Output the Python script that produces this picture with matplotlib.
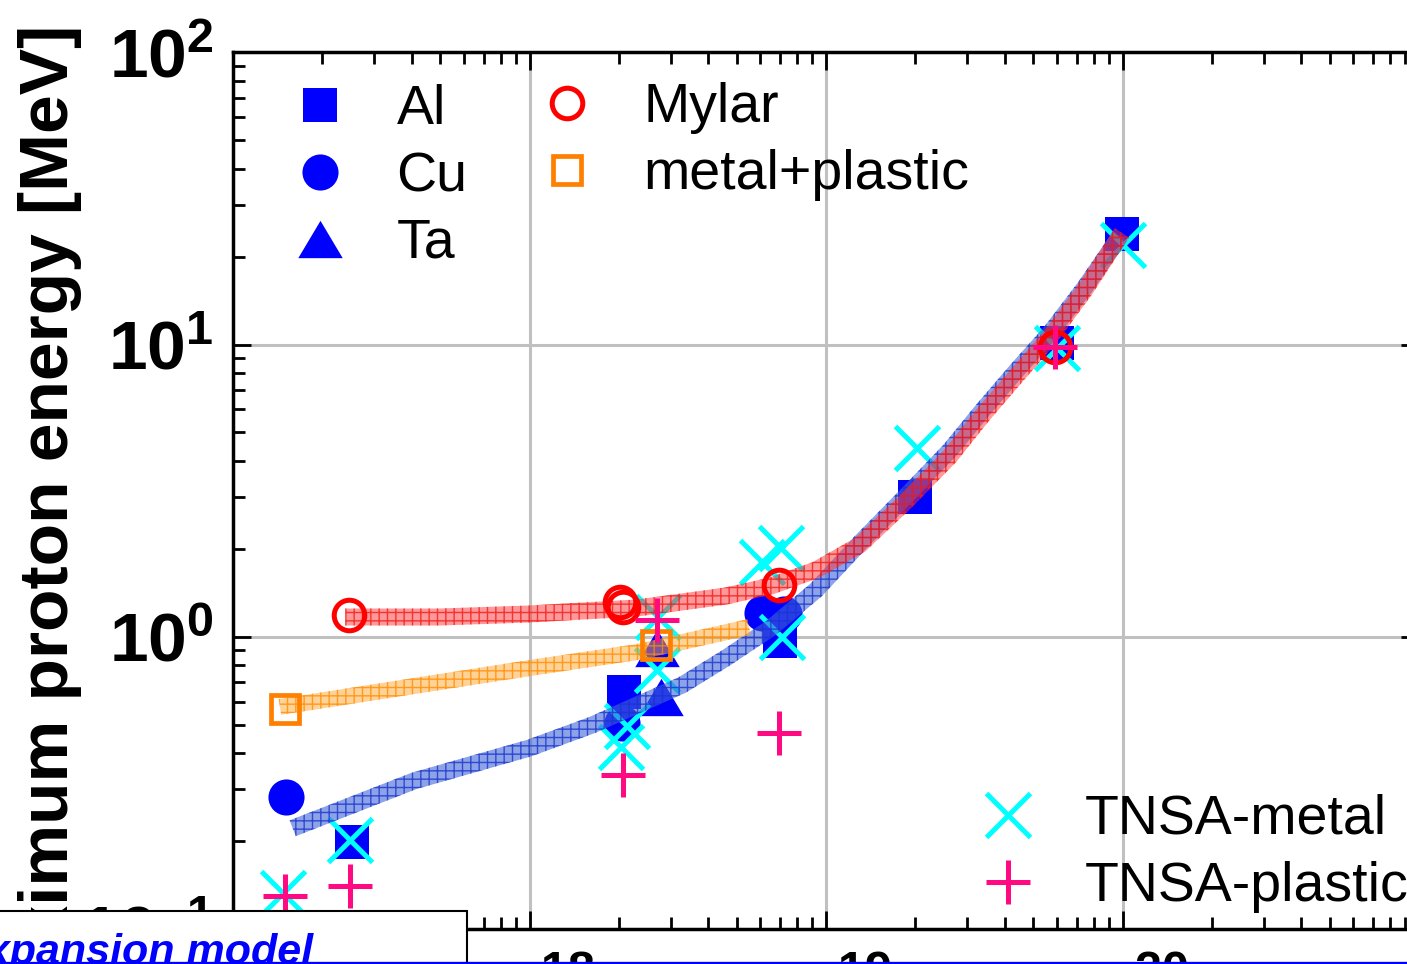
import numpy as np
import matplotlib
matplotlib.use("Agg")
import matplotlib.pyplot as plt
from matplotlib.path import Path
from matplotlib.patches import PathPatch, Rectangle
from matplotlib.lines import Line2D
from matplotlib.ticker import LogLocator, NullFormatter, FuncFormatter
from matplotlib.transforms import IdentityTransform

plt.rcParams['font.family'] = ['Liberation Sans', 'DejaVu Sans']
plt.rcParams['mathtext.fontset'] = 'custom'
plt.rcParams['mathtext.rm'] = 'Liberation Sans:bold'
plt.rcParams['mathtext.bf'] = 'Liberation Sans:bold'
plt.rcParams['mathtext.default'] = 'bf'
plt.rcParams['hatch.linewidth'] = 1.0

# ---------------- data (intensity [W/cm^2], max proton energy [MeV]) -------------
al_x = [2.52e17, 2.08e18, 7.0e18, 2.0e19, 6.01e19, 9.95e19]
al_y = [0.198, 0.647, 0.967, 3.0, 10.1, 23.9]

cu_x = [1.51e17, 2.05e18, 6.1e18, 7.2e18]
cu_y = [0.283, 0.507, 1.21, 1.20]

ta_x = [2.69e18, 2.77e18]
ta_y = [0.915, 0.622]

mylar_x = [2.46e17, 2.02e18, 2.07e18, 6.93e18, 5.92e19]
mylar_y = [1.19, 1.31, 1.26, 1.50, 9.8]

mp_x = [1.50e17, 2.67e18]
mp_y = [0.566, 0.937]

tnsa_metal_x = [1.48e17, 2.48e17, 2.13e18, 2.04e18, 2.69e18, 2.72e18, 7.05e18, 6.08e18,
                7.11e18, 2.03e19, 6.01e19, 1.0e20]
tnsa_metal_y = [0.133, 0.201, 0.495, 0.42, 0.769, 1.17, 2.01, 1.80,
                1.0, 4.42, 9.73, 21.9]

tnsa_plastic_x = [1.50e17, 2.48e17, 2.07e18, 2.69e18, 6.93e18, 5.92e19]
tnsa_plastic_y = [0.130, 0.140, 0.336, 1.14, 0.468, 9.8]

# model curves (band centre lines)
fit_red_x = [2.39e17, 4.99e17, 1.0e18, 2.31e18, 4.6e18, 6.52e18, 9.25e18, 1.30e19,
             1.85e19, 2.62e19, 3.38e19, 4.41e19, 5.70e19, 7.47e19, 9.96e19]
fit_red_y = [1.168, 1.168, 1.196, 1.254, 1.378, 1.491, 1.692, 2.06,
             2.89, 4.15, 5.74, 7.86, 10.6, 15.4, 24.1]

fit_blue_x = [1.59e17, 4.08e17, 1.0e18, 1.63e18, 2.31e18, 3.27e18, 4.6e18, 6.52e18,
              9.25e18, 1.30e19, 1.85e19, 2.62e19, 3.38e19, 4.41e19, 5.70e19, 7.47e19, 9.81e19]
fit_blue_y = [0.221, 0.321, 0.416, 0.499, 0.584, 0.683, 0.846, 1.071,
              1.444, 2.09, 3.01, 4.35, 5.97, 8.18, 10.95, 15.7, 23.5]

fit_orange_x = [1.44e17, 1.0e18, 2.31e18, 5.5e18]
fit_orange_y = [0.575, 0.781, 0.886, 1.079]

W, H = 1407, 964
fig = plt.figure(figsize=(W / 100, H / 100), dpi=100)
ax = fig.add_axes([233 / W, 1 - 928.9 / H, 1186 / W, (928.9 - 52.3) / H])
ax.set_xscale('log')
ax.set_yscale('log')
ax.set_xlim(1e17, 1e21)
ax.set_ylim(0.1, 100)

for s in ax.spines.values():
    s.set_linewidth(2.5)

ax.xaxis.set_major_locator(LogLocator(base=10, numticks=10))
ax.yaxis.set_major_locator(LogLocator(base=10, numticks=10))
ax.xaxis.set_minor_locator(LogLocator(base=10, subs=np.arange(2, 10), numticks=20))
ax.yaxis.set_minor_locator(LogLocator(base=10, subs=np.arange(2, 10), numticks=20))
ax.xaxis.set_minor_formatter(NullFormatter())
ax.yaxis.set_minor_formatter(NullFormatter())
fmt = FuncFormatter(lambda v, p: r'$\mathbf{10^{%d}}$' % int(round(np.log10(v))))
ax.xaxis.set_major_formatter(fmt)
ax.yaxis.set_major_formatter(fmt)

ax.tick_params(which='major', direction='in', length=13, width=2, top=True, right=True,
               labelsize=50)
ax.tick_params(which='minor', direction='in', length=8.5, width=2, top=True, right=True)
ax.tick_params(axis='y', which='major', pad=14)
ax.tick_params(axis='x', which='major', pad=23)

ax.set_axisbelow(True)
ax.grid(True, which='major', color='#c0c0c0', lw=2.2)

blue = '#0000ff'
tri = [(-1, -0.84), (1, -0.84), (0, 0.84)]
# filled metal markers
h_al, = ax.plot(al_x, al_y, ls='none', marker='s', ms=24, mfc=blue, mec=blue, mew=0, zorder=2, label='Al')
h_cu, = ax.plot(cu_x, cu_y, ls='none', marker='o', ms=26, mfc=blue, mec=blue, mew=0, zorder=2, label='Cu')
h_ta, = ax.plot(ta_x, ta_y, ls='none', marker=tri, ms=32, mfc=blue, mec=blue, mew=0, zorder=2, label='Ta')
h_tm, = ax.plot(tnsa_metal_x, tnsa_metal_y, ls='none', marker='x', ms=32, mec='#00ffff', mew=3.6,
                zorder=2.5, label='TNSA-metal')


def band(xs, ys, half_px, face, hatchc, z):
    pts = ax.transData.transform(np.column_stack([xs, ys]))
    t = np.zeros_like(pts)
    t[1:-1] = pts[2:] - pts[:-2]
    t[0] = pts[1] - pts[0]
    t[-1] = pts[-1] - pts[-2]
    t /= np.hypot(t[:, 0], t[:, 1])[:, None]
    n = np.column_stack([-t[:, 1], t[:, 0]])
    up = pts + n * half_px
    lo = pts - n * half_px
    poly = np.vstack([up, lo[::-1], up[:1]])
    codes = [Path.MOVETO] + [Path.LINETO] * (len(poly) - 2) + [Path.CLOSEPOLY]
    p = PathPatch(Path(poly, codes), transform=IdentityTransform(), facecolor=face,
                  edgecolor=hatchc, lw=0, hatch='++', zorder=z)
    ax.add_artist(p)


band(fit_blue_x, fit_blue_y, 8.5, (0.25, 0.40, 0.85, 0.6), (0.1, 0.2, 0.8, 0.8), 3.0)
band(fit_orange_x, fit_orange_y, 8.0, (1.0, 0.65, 0.2, 0.5), (1.0, 0.55, 0.0, 0.8), 3.1)
band(fit_red_x, fit_red_y, 8.5, (1.0, 0.2, 0.2, 0.5), (0.95, 0.1, 0.1, 0.8), 3.2)

red = '#ff0000'
orange = '#ff8000'
pink = '#ff0a82'
h_my, = ax.plot(mylar_x, mylar_y, ls='none', marker='o', ms=22, mfc='none', mec=red, mew=3.6,
                zorder=4, label='Mylar')
h_mp, = ax.plot(mp_x, mp_y, ls='none', marker='s', ms=20, mfc='none', mec=orange, mew=3.4,
                zorder=4, label='metal+plastic')
h_tp, = ax.plot(tnsa_plastic_x, tnsa_plastic_y, ls='none', marker='+', ms=31, mec=pink, mew=3.6,
                zorder=4.5, label='TNSA-plastic')

legkw = dict(frameon=False, fontsize=40, handlelength=1.0, handletextpad=0.88, labelspacing=0.27,
             borderpad=0, borderaxespad=0, numpoints=1, loc='upper left',
             bbox_transform=fig.transFigure)
leg1 = ax.legend(handles=[h_al, h_cu, h_ta], bbox_to_anchor=(292 / W, 1 - 84 / H), **legkw)
ax.add_artist(leg1)
leg2 = ax.legend(handles=[h_my, h_mp], bbox_to_anchor=(539 / W, 1 - 82 / H), **legkw)
ax.add_artist(leg2)
leg3 = ax.legend(handles=[h_tm, h_tp], bbox_to_anchor=(980 / W, 1 - 794 / H), **legkw)

fig.text(82 / W, 1 - 25 / H, 'Maximum proton energy [MeV]', rotation=90, rotation_mode='anchor',
         ha='right', va='bottom', fontsize=50, fontweight='bold')

# overlapping caption box at the bottom left
fig.add_artist(Rectangle((-0.01, -0.05), (467 / W) + 0.01, (H - 910.7) / H + 0.05,
                         transform=fig.transFigure, facecolor='white', edgecolor='black',
                         lw=1.5, zorder=10))
fig.text(313 / W, 1 - 964 / H, 'expansion model', ha='right', va='baseline', color=blue,
         fontsize=31, fontweight='bold', fontstyle='italic', zorder=11)
fig.add_artist(Line2D([0, 1], [1 - 962.5 / H, 1 - 962.5 / H], transform=fig.transFigure,
                      color=blue, lw=2.4, zorder=12))

fig.savefig('out.png', dpi=100)
